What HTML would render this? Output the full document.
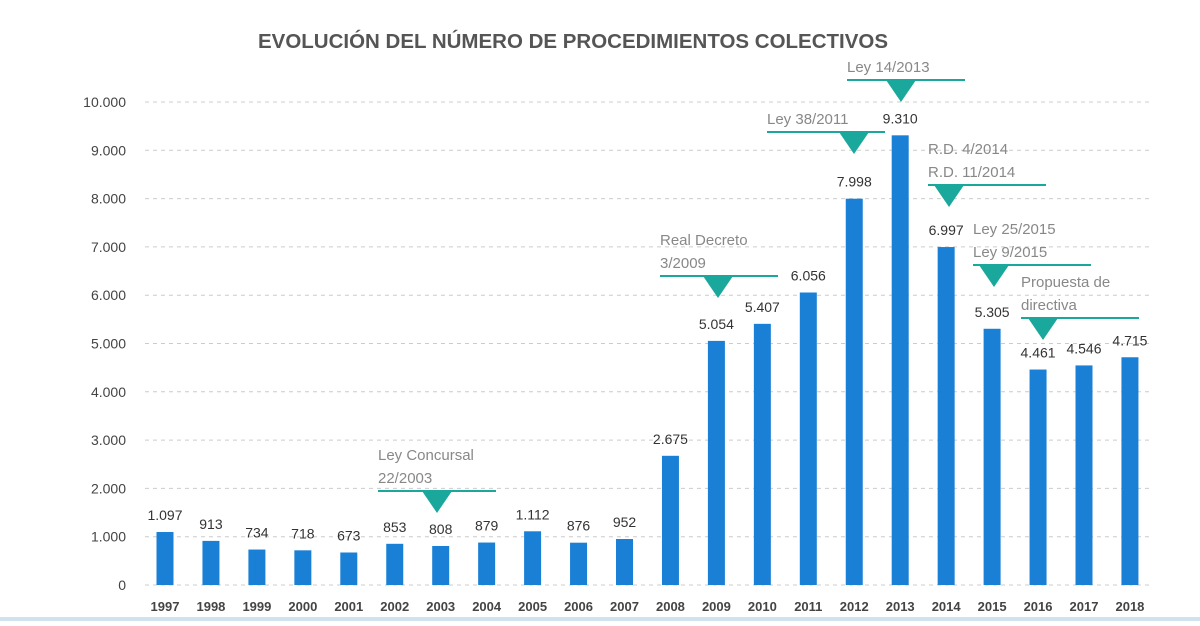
<!DOCTYPE html>
<html><head><meta charset="utf-8"><style>
body{margin:0;background:#fff;width:1200px;height:621px;overflow:hidden;font-family:"Liberation Sans",sans-serif}
</style></head><body>
<svg id="chart" width="1200" height="621" xmlns="http://www.w3.org/2000/svg">
<text x="573" y="48" text-anchor="middle" font-size="20" font-weight="bold" fill="#555" textLength="630" lengthAdjust="spacingAndGlyphs">EVOLUCIÓN DEL NÚMERO DE PROCEDIMIENTOS COLECTIVOS</text>
<rect x="0" y="617" width="1200" height="4" fill="#cfe3ee"/>
</svg>
<script>
const years=["1997","1998","1999","2000","2001","2002","2003","2004","2005","2006","2007","2008","2009","2010","2011","2012","2013","2014","2015","2016","2017","2018"];
const values=[1097,913,734,718,673,853,808,879,1112,876,952,2675,5054,5407,6056,7998,9310,6997,5305,4461,4546,4715];
const valueLabels=["1.097","913","734","718","673","853","808","879","1.112","876","952","2.675","5.054","5.407","6.056","7.998","9.310","6.997","5.305","4.461","4.546","4.715"];
const yTicks=[0,1000,2000,3000,4000,5000,6000,7000,8000,9000,10000];
const yTickLabels=["0","1.000","2.000","3.000","4.000","5.000","6.000","7.000","8.000","9.000","10.000"];
const annoText=[["Ley Concursal","22/2003"],["Real Decreto","3/2009"],["Ley 38/2011"],["Ley 14/2013"],["R.D. 4/2014","R.D. 11/2014"],["Ley 25/2015","Ley 9/2015"],["Propuesta de","directiva"]];
const NS="http://www.w3.org/2000/svg",svg=document.getElementById('chart');
const y0=585,pxPer=0.0483,x0=165,step=45.95,bw=17;
const yS=v=>y0-v*pxPer, xS=i=>x0+i*step;
function mk(t,a){const e=document.createElementNS(NS,t);for(const k in a)e.setAttribute(k,a[k]);svg.appendChild(e);return e;}
yTicks.forEach((t,i)=>{
 const g=mk('line',{x1:145,x2:1152,y1:yS(t),y2:yS(t),stroke:'#ccc','stroke-dasharray':'4,4','stroke-width':1});
 
 
 const l=mk('text',{x:126,y:yS(t)+5,'text-anchor':'end','font-size':14,fill:'#444'});
 l.textContent=yTickLabels[i];
 
 
});
years.forEach((yr,i)=>{
 const b=mk('rect',{x:xS(i)-bw/2,y:yS(values[i]),width:bw,height:values[i]*pxPer,fill:'#1a80d5'});
 
 
 const v=mk('text',{x:xS(i),y:yS(values[i])-12,'text-anchor':'middle','font-size':14,fill:'#333'});
 v.textContent=valueLabels[i];
 
 
 const x=mk('text',{x:xS(i),y:611,'text-anchor':'middle','font-size':13,'font-weight':'bold',fill:'#444'});
 x.textContent=yr;
 
 
});
// annotation layout (pixel positions)
const annoPos=[[378,491,437],[660,276,718],[767,132,854],[847,80,901],[928,185,949],[973,265,994],[1021,318,1043]];
annoText.forEach((lines,i)=>{
 const [tx,ly,cx]=annoPos[i];
 lines.forEach((s,j)=>{
  const t=mk('text',{x:tx,y:ly-8-(lines.length-1-j)*23,'font-size':15,fill:'#888'});
  t.textContent=s;
  
  
 });
 const l=mk('line',{x1:tx,x2:tx+118,y1:ly,y2:ly,stroke:'#1aa89c','stroke-width':2});
 
 
 const p=mk('polygon',{points:`${cx-15},${ly} ${cx+15},${ly} ${cx},${ly+22}`,fill:'#1aa89c'});
 
 
});
</script>
</body></html>
